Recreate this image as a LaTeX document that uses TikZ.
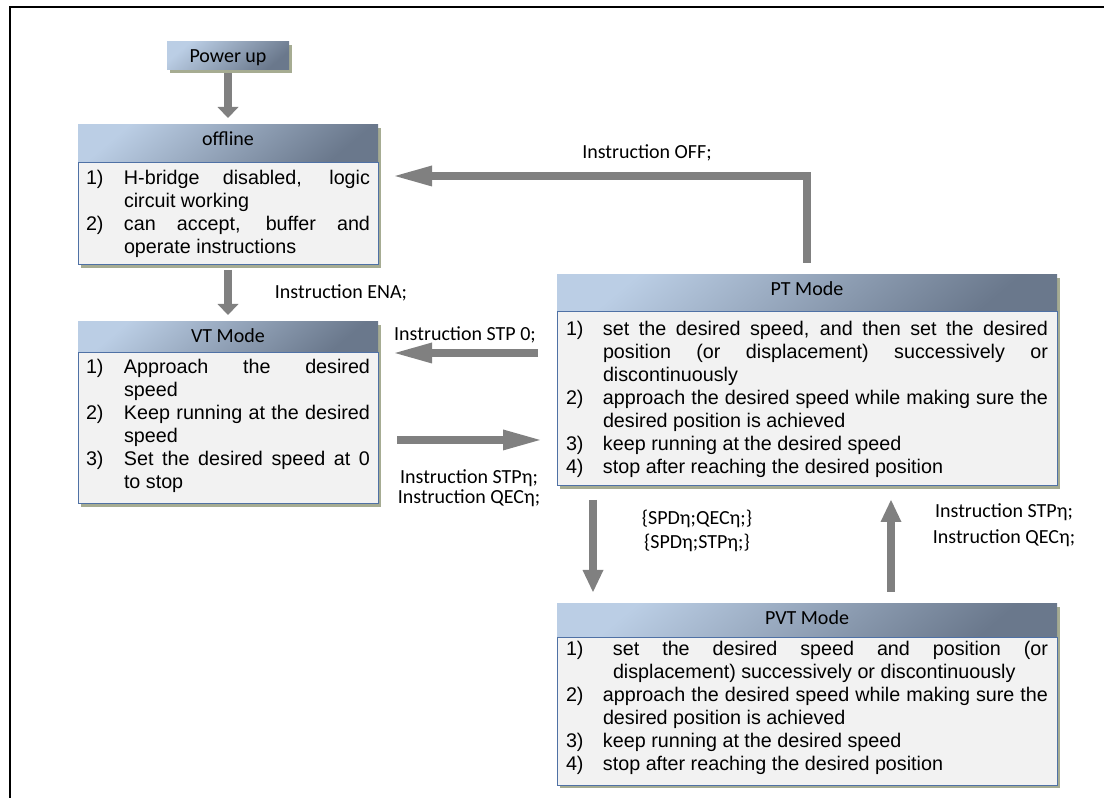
\documentclass[tikz,border=0pt]{standalone}
\usepackage{fontspec}
\setmainfont{Liberation Sans}
\newfontfamily\calfont{Carlito}
\usetikzlibrary{positioning,arrows.meta,shadows}

\definecolor{hdlight}{RGB}{187,206,229}
\definecolor{hddark}{RGB}{106,120,140}
\definecolor{shadowc}{RGB}{166,172,146}
\definecolor{boxfill}{RGB}{242,242,242}
\definecolor{boxline}{RGB}{79,113,165}
\definecolor{flowgray}{RGB}{128,128,128}

\newlength\numw
\newcommand{\stepitem}[3][0pt]{\hangindent=\dimexpr\numw+#1\relax\hangafter=1\noindent\makebox[\dimexpr\numw+#1\relax][l]{#2}#3\par}
\newcommand{\steplist}[2]{\vbox to #1{\leftskip=0pt \rightskip=0pt \parfillskip=0pt plus 1fil
  \spaceskip=0pt \xspaceskip=0pt \tolerance=9999 \hyphenpenalty=10000 \exhyphenpenalty=10000 #2\vfil}}

\tikzset{
  hdr/.style={top color=hdlight, bottom color=hddark, shading angle=40, inner sep=0pt, outer sep=0pt,
    general shadow={fill=shadowc, shadow xshift=2.25pt, shadow yshift=-2.25pt},
    font=\calfont\fontsize{15pt}{18pt}\selectfont, text height=11pt},
  stepbox/.style={fill=boxfill, draw=boxline, line width=0.75pt, outer sep=0pt,
    general shadow={fill=shadowc, shadow xshift=2.25pt, shadow yshift=-2.25pt},
    font=\fontsize{14.8pt}{17.25pt}\selectfont},
  flow/.style={draw=flowgray, line width=6.4pt, -{Triangle[width=15.75pt,length=#1,line width=0pt]}},
  flow/.default=27.75pt,
  lbl/.style={font=\calfont\fontsize{15pt}{18pt}\selectfont, align=center}
}

\begin{document}
\begin{tikzpicture}[x=0.75pt,y=-0.75pt]
\useasboundingbox (0,0) rectangle (1104,798);
\draw[line width=1.5pt] (9.5,800) -- (9.5,7) -- (1106,7);

\node[hdr, minimum width=91.5pt, minimum height=21pt, text depth=1pt, anchor=north west] (pwr) at (167,42) {Power up};

\node[hdr, minimum width=225pt, minimum height=28.5pt, text depth=8.5pt, anchor=north west] (offh) at (78,125) {offline};
\node[stepbox, text width=213pt, inner xsep=6pt, inner ysep=5.5pt, below=0pt of offh] (offb) {\setlength\numw{28.5pt}\steplist{65.5pt}{
\stepitem{1)}{H-bridge disabled, logic\linebreak circuit working}
\stepitem{2)}{can accept, buffer and\linebreak operate instructions}}};

\node[hdr, minimum width=225pt, minimum height=23.25pt, text depth=3.2pt, anchor=north west] (vth) at (78,322) {VT Mode};
\node[stepbox, text width=213pt, inner xsep=6pt, inner ysep=4.7pt, below=0pt of vth] (vtb) {\setlength\numw{28.5pt}\steplist{103.85pt}{
\stepitem{1)}{Approach the desired\linebreak speed}
\stepitem{2)}{Keep running at the desired\linebreak speed}
\stepitem{3)}{Set the desired speed at 0\linebreak to stop}}};

\node[hdr, minimum width=375pt, minimum height=27.75pt, text depth=7.7pt, anchor=north west] (pth) at (557,275) {PT Mode};
\node[stepbox, text width=361.5pt, inner xsep=6.75pt, inner ysep=7pt, below=0pt of pth] (ptb) {\setlength\numw{27.75pt}\steplist{116.5pt}{
\stepitem{1)}{set the desired speed, and then set the desired\linebreak position (or displacement) successively or\linebreak discontinuously}
\stepitem{2)}{approach the desired speed while making sure the\linebreak desired position is achieved}
\stepitem{3)}{keep running at the desired speed}
\stepitem{4)}{stop after reaching the desired position}}};

\node[hdr, minimum width=375pt, minimum height=24.75pt, text depth=4.7pt, anchor=north west] (pvth) at (557,604) {PVT Mode};
\node[stepbox, text width=361.5pt, inner xsep=6.75pt, inner ysep=3.2pt, below=0pt of pvth] (pvtb) {\setlength\numw{27.75pt}\steplist{104.6pt}{
\stepitem[7.5pt]{1)}{set the desired speed and position (or\linebreak displacement) successively or discontinuously}
\stepitem{2)}{approach the desired speed while making sure the\linebreak desired position is achieved}
\stepitem{3)}{keep running at the desired speed}
\stepitem{4)}{stop after reaching the desired position}}};

\draw[flow=8.25pt, shorten <=2.25pt, shorten >=5.25pt] (pwr) -- (offh);
\draw[flow=8.25pt, shorten <=3.75pt, shorten >=5.25pt] (offb) -- (vth);

\coordinate (offin) at ([yshift=-9.75pt]offb.north east);
\draw[flow, shorten <=9pt, shorten >=12.75pt] (pth.north) |- (offin);
\draw[flow, shorten <=14.25pt, shorten >=12.75pt] (ptb.west |- vth.south) -- (vth.south east);
\coordinate (vtout) at ([yshift=-8.6pt]vtb.east);
\draw[flow, shorten <=14.25pt, shorten >=12.75pt] (vtout) -- (vtout -| ptb.west);
\draw[flow=16.5pt, shorten <=10.5pt, shorten >=9pt] ([xshift=27pt]ptb.south west) -- ([xshift=27pt]pvth.north west);
\draw[flow=16.5pt, shorten <=9pt, shorten >=10.5pt] ([xshift=250.5pt]pvth.north west) -- ([xshift=250.5pt]ptb.south west);

\node[lbl] (offlbl) at (647,153) {Instruction OFF;};
\node[lbl] (enalbl) at (341,293) {Instruction ENA;};
\node[lbl] (stplbl) at (465,335) {Instruction STP 0;};
\node[lbl] (fwdlbl) at (469,488) {Instruction STPη;\\[-3pt]Instruction QECη;};
\node[lbl] (downlbl) at (697,531) {\{SPDη;QECη;\}\\\{SPDη;STPη;\}};
\node[lbl] (uplbl) at (1004,525) {Instruction STPη;\\[1.5pt]Instruction QECη;};
\end{tikzpicture}
\end{document}
